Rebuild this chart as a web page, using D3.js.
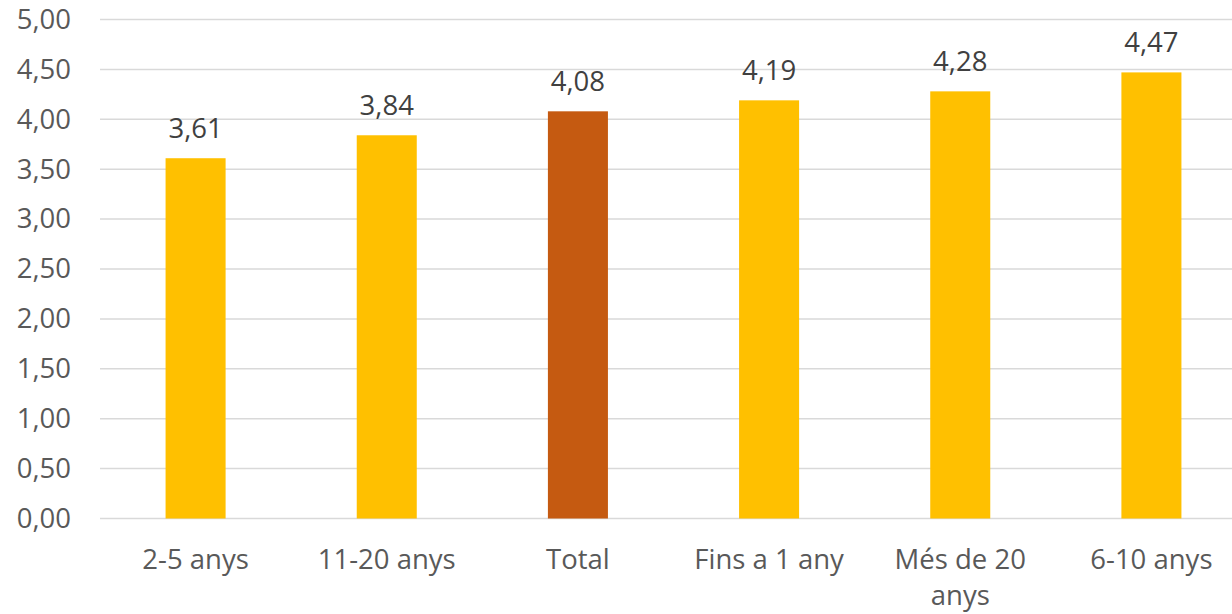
<!DOCTYPE html>
<html>
<head>
<meta charset="utf-8">
<script src="https://cdn.jsdelivr.net/npm/d3@7"></script>
<style>
  html, body { margin: 0; padding: 0; background: #fff; }
  svg { display: block; }
</style>
</head>
<body>
<svg id="chart" width="1232" height="614"></svg>
<script>
// Average score by seniority group
const categories = ["2-5 anys", "11-20 anys", "Total", "Fins a 1 any", "Més de 20 anys", "6-10 anys"];
const values = [3.61, 3.84, 4.08, 4.19, 4.28, 4.47];
const highlight = ["Total"];
const yTicks = [0, 0.5, 1, 1.5, 2, 2.5, 3, 3.5, 4, 4.5, 5];

const svg = d3.select("#chart");
const fontFamily = "'Open Sans', sans-serif";
const fontSize = "27.5px";
const fmt = v => d3.format(".2f")(v).replace(".", ",");

const x = d3.scaleBand().domain(categories).range([100, 1247]).padding(0);
const y = d3.scaleLinear().domain([0, 5]).range([518.5, 19.5]);
const barW = x.bandwidth() * 0.314;

// Gridlines
svg.append("g")
  .selectAll("line")
  .data(yTicks)
  .join("line")
  .attr("x1", 100).attr("x2", 1232)
  .attr("y1", d => y(d)).attr("y2", d => y(d))
  .attr("stroke", "#d9d9d9")
  .attr("stroke-width", 1.5);

// Y axis labels
const yAxis = d3.axisLeft(y).tickValues(yTicks).tickFormat(fmt).tickSize(0).tickPadding(0);
const yg = svg.append("g").attr("transform", "translate(71,0)").call(yAxis);
yg.select(".domain").remove();
yg.selectAll("text")
  .attr("fill", "#595959")
  .style("font-family", fontFamily)
  .style("font-size", fontSize);

// Bars
svg.append("g")
  .selectAll("rect")
  .data(categories)
  .join("rect")
  .attr("x", (d) => x(d) + (x.bandwidth() - barW) / 2)
  .attr("width", barW)
  .attr("y", (d, i) => y(values[i]))
  .attr("height", (d, i) => y(0) - y(values[i]))
  .attr("fill", d => highlight.includes(d) ? "#c55a11" : "#ffc000");

// Value labels
svg.append("g")
  .selectAll("text")
  .data(categories)
  .join("text")
  .attr("x", d => x(d) + x.bandwidth() / 2)
  .attr("y", (d, i) => y(values[i]) - 20)
  .attr("text-anchor", "middle")
  .attr("fill", "#404040")
  .style("font-family", fontFamily)
  .style("font-size", fontSize)
  .text((d, i) => fmt(values[i]));

// Category labels (wrapped)
const labelLines = {"Més de 20 anys": ["Més de 20", "anys"]};
const cat = svg.append("g")
  .selectAll("text")
  .data(categories)
  .join("text")
  .attr("x", d => x(d) + x.bandwidth() / 2)
  .attr("y", 569)
  .attr("text-anchor", "middle")
  .attr("fill", "#595959")
  .style("font-family", fontFamily)
  .style("font-size", fontSize);
cat.each(function(d) {
  const lines = labelLines[d] || [d];
  d3.select(this).selectAll("tspan")
    .data(lines)
    .join("tspan")
    .attr("x", x(d) + x.bandwidth() / 2)
    .attr("dy", (l, i) => i === 0 ? 0 : 36)
    .text(l => l);
});
</script>
</body>
</html>
